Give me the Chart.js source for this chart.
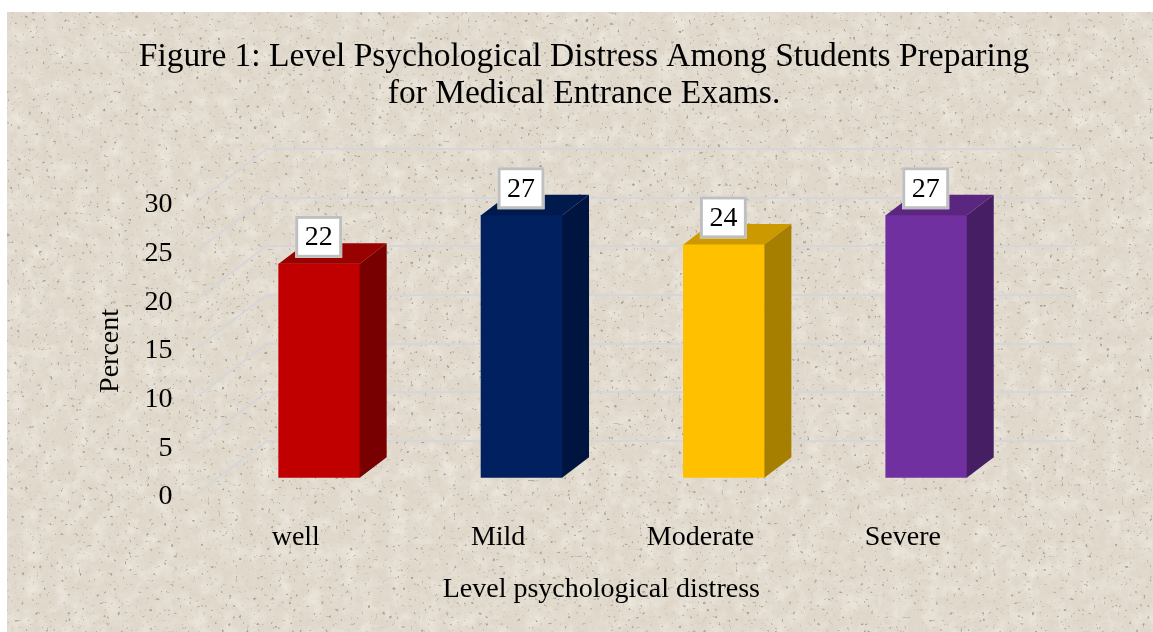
<!DOCTYPE html>
<html>
<head>
<meta charset="utf-8">
<title>Level Psychological Distress</title>
<script src="https://cdn.jsdelivr.net/npm/chart.js@4"></script>
<style>
    html, body { margin: 0; padding: 0; background: #ffffff; }
    #stage { position: relative; width: 1153px; height: 632px; overflow: hidden; }
    #paper { position: absolute; left: 7px; top: 12px; width: 1146px; height: 620px; }
    #chart { position: absolute; left: 0; top: 0; }
</style>
</head>
<body>
<div id="stage">
    <!-- Stone paper texture behind the chart -->
    <svg id="paper" xmlns="http://www.w3.org/2000/svg">
        <filter id="grain" x="0" y="0" width="100%" height="100%">
            <feTurbulence type="fractalNoise" baseFrequency="0.14" numOctaves="3" seed="7"/>
            <feColorMatrix type="matrix" values="0 0 0 0 0.66  0 0 0 0 0.62  0 0 0 0 0.54  0.9 0 0 0 -0.38"/>
            <feGaussianBlur stdDeviation="0.7"/>
        </filter>
        <filter id="light" x="0" y="0" width="100%" height="100%">
            <feTurbulence type="fractalNoise" baseFrequency="0.06" numOctaves="3" seed="41"/>
            <feColorMatrix type="matrix" values="0 0 0 0 1  0 0 0 0 0.98  0 0 0 0 0.94  0 0.8 0 0 -0.33"/>
        </filter>
        <filter id="specks" x="0" y="0" width="100%" height="100%">
            <feTurbulence type="fractalNoise" baseFrequency="0.28" numOctaves="2" seed="23"/>
            <feColorMatrix type="matrix" values="0 0 0 0 0.40  0 0 0 0 0.37  0 0 0 0 0.32  0 7 0 0 -4.75"/>
            <feGaussianBlur stdDeviation="0.6"/>
        </filter>
        <rect width="100%" height="100%" fill="#e1d9cc"/>
        <rect width="100%" height="100%" filter="url(#light)"/>
        <rect width="100%" height="100%" filter="url(#grain)"/>
        <rect width="100%" height="100%" filter="url(#specks)"/>
    </svg>
    <canvas id="chart" width="1153" height="632"></canvas>
</div>

<script>
// Values
const categories = ['well', 'Mild', 'Moderate', 'Severe'];
const percentValues = [22, 27, 24, 27];
const yTicks = [0, 5, 10, 15, 20, 25, 30];

// Front, top and side colours of each bar
const frontColors = ['#C00000', '#002060', '#FFC000', '#7030A0'];
const topColors = ['#990000', '#001A4D', '#CC9A00', '#5A2680'];
const sideColors = ['#780000', '#001440', '#A67E00', '#461E64'];

const SERIF = '"Liberation Serif", "Times New Roman", serif';

// Depth of the floor and of the bars in the fake 3D view
const WALL_DX = 70;
const WALL_DY = 53;
const GRID_LIFT = 3;
const BAR_SHIFT_X = 21.4;
const BAR_SHIFT_Y = -19;
const BAR_DX = 27;
const BAR_DY = 20.5;

// Back wall grid lines, with the diagonal running to the front edge
const wallGrid = {
    id: 'wallGrid',
    beforeDatasetsDraw(chart) {
        const { ctx, chartArea, scales } = chart;
        ctx.save();
        ctx.strokeStyle = '#d6d6d8';
        ctx.lineWidth = 2;
        yTicks.forEach(tick => {
            const y = Math.round(scales.y.getPixelForValue(tick)) - GRID_LIFT;
            ctx.beginPath();
            ctx.moveTo(chartArea.left, y);
            ctx.lineTo(chartArea.left + WALL_DX, y - WALL_DY);
            ctx.lineTo(chartArea.right + WALL_DX, y - WALL_DY);
            ctx.stroke();
        });
        ctx.restore();
    }
};

// Moves the bars back to the middle of the floor and adds their 3D faces
const barDepth = {
    id: 'barDepth',
    beforeDatasetDraw(chart) {
        chart.ctx.save();
        chart.ctx.translate(BAR_SHIFT_X, BAR_SHIFT_Y);
    },
    afterDatasetDraw(chart) {
        const ctx = chart.ctx;
        const bars = chart.getDatasetMeta(0).data;

        bars.forEach((bar, i) => {
            const left = bar.x - bar.width / 2;
            const right = bar.x + bar.width / 2;

            ctx.fillStyle = topColors[i];
            ctx.beginPath();
            ctx.moveTo(left, bar.y);
            ctx.lineTo(left + BAR_DX, bar.y - BAR_DY);
            ctx.lineTo(right + BAR_DX, bar.y - BAR_DY);
            ctx.lineTo(right, bar.y);
            ctx.closePath();
            ctx.fill();

            ctx.fillStyle = sideColors[i];
            ctx.beginPath();
            ctx.moveTo(right, bar.y);
            ctx.lineTo(right + BAR_DX, bar.y - BAR_DY);
            ctx.lineTo(right + BAR_DX, bar.base - BAR_DY);
            ctx.lineTo(right, bar.base);
            ctx.closePath();
            ctx.fill();
        });

        // Data labels in white boxes
        bars.forEach((bar, i) => {
            const boxX = bar.x - 24;
            const boxY = bar.y - 48;
            ctx.fillStyle = '#ffffff';
            ctx.strokeStyle = '#bfbfbf';
            ctx.lineWidth = 3;
            ctx.fillRect(boxX, boxY, 47, 42);
            ctx.strokeRect(boxX + 1.5, boxY + 1.5, 44, 39);
            ctx.fillStyle = '#000000';
            ctx.font = '28px ' + SERIF;
            ctx.textAlign = 'center';
            ctx.textBaseline = 'middle';
            ctx.fillText(String(percentValues[i]), boxX + 23.5, boxY + 22);
        });
        ctx.restore();
    }
};

// The title is centred on the panel, not on the plot
const centerTitle = {
    id: 'centerTitle',
    afterLayout(chart) {
        chart.titleBlock.left = 0;
        chart.titleBlock.right = 1168;
    }
};

new Chart(document.getElementById('chart'), {
    type: 'bar',
    data: {
        labels: categories,
        datasets: [{
            label: 'Percent',
            data: percentValues,
            backgroundColor: frontColors,
            borderWidth: 0,
            barThickness: 81
        }]
    },
    plugins: [wallGrid, barDepth, centerTitle],
    options: {
        responsive: false,
        animation: false,
        layout: {
            padding: { left: 94, right: 147, top: 20, bottom: 26 }
        },
        plugins: {
            legend: { display: false },
            tooltip: { enabled: false },
            title: {
                display: true,
                text: [
                    'Figure 1: Level Psychological Distress Among Students Preparing',
                    'for Medical Entrance Exams.'
                ],
                color: '#000000',
                font: { family: SERIF, size: 33.5, weight: 'normal', lineHeight: 1.105 },
                padding: { top: 19, bottom: 92 }
            }
        },
        scales: {
            x: {
                grid: { display: false },
                border: { display: false },
                ticks: {
                    color: '#000000',
                    font: { family: SERIF, size: 28 },
                    padding: 16,
                    labelOffset: -2,
                    maxRotation: 0
                },
                title: {
                    display: true,
                    text: 'Level psychological distress',
                    color: '#000000',
                    font: { family: SERIF, size: 28 },
                    padding: { top: 2, bottom: 0 }
                }
            },
            y: {
                min: 0,
                max: 30,
                grid: { display: false },
                border: { display: false },
                afterBuildTicks(scale) {
                    scale.ticks = yTicks.map(value => ({ value }));
                },
                ticks: {
                    color: '#000000',
                    font: { family: SERIF, size: 28 },
                    padding: 16
                },
                title: {
                    display: true,
                    text: 'Percent',
                    color: '#000000',
                    font: { family: SERIF, size: 28 },
                    padding: { top: 0, bottom: 1 }
                }
            }
        }
    }
});
</script>
</body>
</html>
